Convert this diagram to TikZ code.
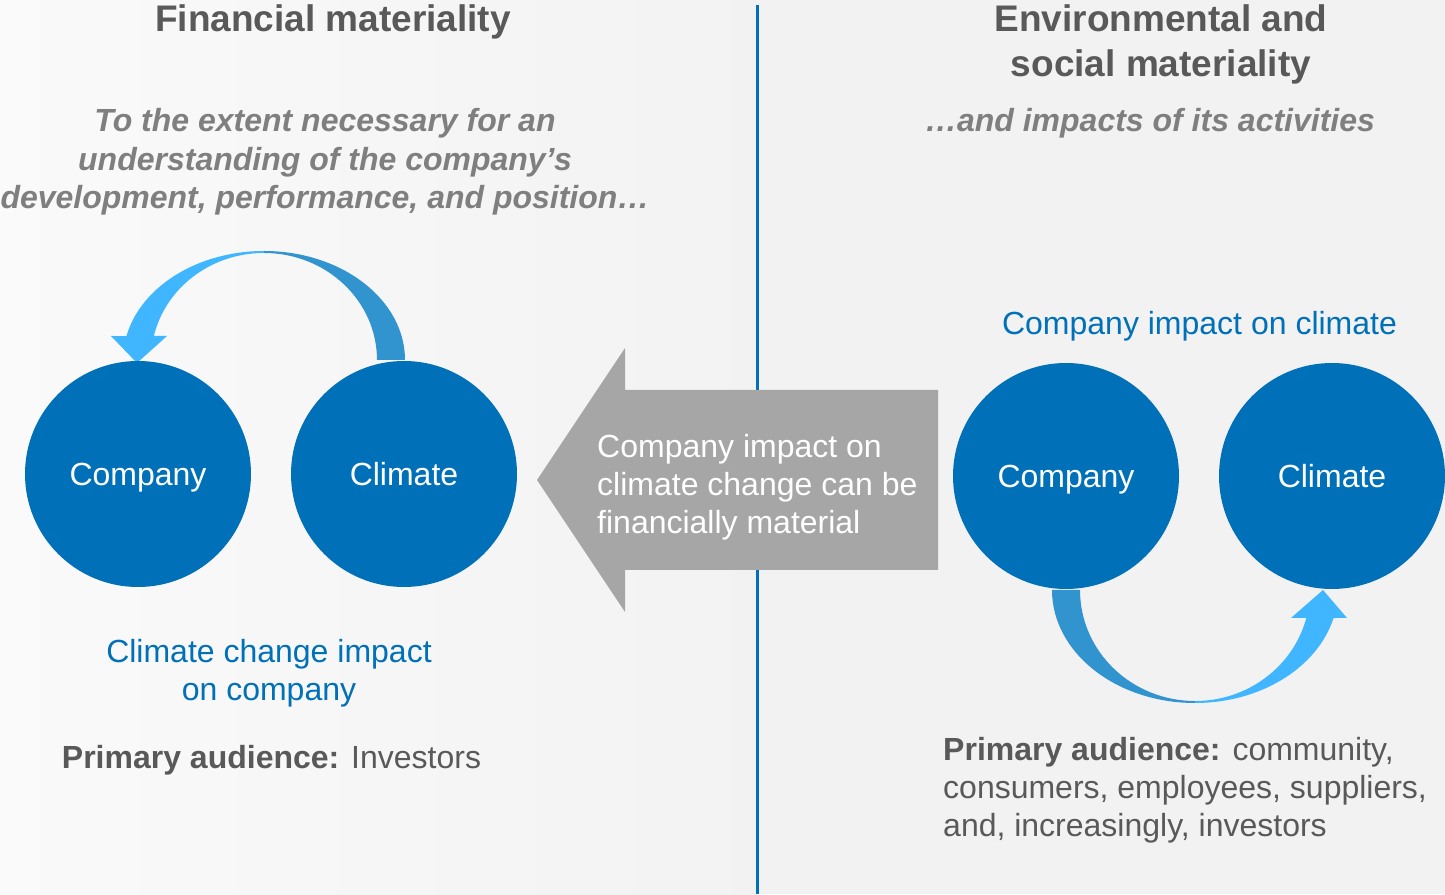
\documentclass[tikz,border=0pt]{standalone}
\usepackage{fontspec}
\setmainfont{Liberation Sans}
\usepackage{xcolor}
\definecolor{corpblue}{HTML}{0070B8}
\definecolor{arrlight}{HTML}{3FB6FF}
\definecolor{arrdark}{HTML}{3194CF}
\definecolor{headgray}{HTML}{595959}
\definecolor{subgray}{HTML}{7F7F7F}
\definecolor{bigarrow}{HTML}{A6A6A6}
\usepackage{tikz}
\usetikzlibrary{positioning}

\begin{document}
\begin{tikzpicture}[x=1pt,y=1pt,inner sep=0pt,
  circ/.style={circle,fill=corpblue,minimum size=226pt,text=white,text height=23pt,text depth=0pt,font=\fontsize{32}{38}\selectfont},
  headtxt/.style={anchor=base,align=center,text=headgray,font=\fontsize{37}{45}\selectfont\bfseries},
  subtxt/.style={anchor=base,align=center,text=subgray,font=\fontsize{32}{38.5}\selectfont\bfseries\itshape},
  bluetxt/.style={anchor=base,align=center,text=corpblue,font=\fontsize{32}{38.5}\selectfont},
  bodytxt/.style={anchor=base,text=headgray,font=\fontsize{32}{38}\selectfont}]
  \useasboundingbox (0,0) rectangle (1445,894);
  % two panels
  \shade[left color=black!2,right color=black!5] (0,0) rectangle (757,894);
  \fill[black!5] (757,0) rectangle (1445,894);
  \draw[corpblue,line width=3pt] (757,889) -- (757,0);

  % left panel (multi-line nodes sit on their last baseline)
  \node[headtxt] (fin) at (333,862) {Financial materiality};
  \node[subtxt] (finsub) at (325,685) {To the extent necessary for an\\understanding of the company’s\\development, performance, and position…};
  \fill[arrdark] (264,643) arc[start angle=90,end angle=0,x radius=141,y radius=109]
    -- (377,534) arc[start angle=0,end angle=90,x radius=113,y radius=107] -- cycle;
  \fill[arrlight] (264,643) arc[start angle=90,end angle=167.3,x radius=141,y radius=109]
    -- (111,558) -- (137,531) -- (167,558) -- (153.9,558.1)
    arc[start angle=167,end angle=90,x radius=113,y radius=107] -- cycle;
  \node[circ] (lcomp) at (138,420) {Company};
  \node[circ] (lclim) at (404,420) {Climate};
  \node[bluetxt] (lblimp) at (269,193) {Climate change impact\\on company};
  \node[bodytxt] (lbaud) at (271.5,125) {\textbf{Primary audience:} Investors};

  % big arrow across the divider
  \fill[bigarrow] (537,414) -- (625,546) -- (625,504) -- (938,504) -- (938,324) -- (625,324) -- (625,282) -- cycle;
  \node[anchor=base west,align=left,text=white,font=\fontsize{32}{38.3}\selectfont] (bridge) at (597,360)
    {Company impact on\\climate change can be\\financially material};

  % right panel
  \node[headtxt] (env) at (1161,817) {Environmental and\\social materiality};
  \node[subtxt] (envsub) at (1150,762) {…and impacts of its activities};
  \node[bluetxt] (rblimp) at (1199.5,559) {Company impact on climate};
  \fill[arrdark] (1052,304) arc[start angle=180,end angle=270,x radius=143,y radius=113]
    -- (1195,193) arc[start angle=270,end angle=180,x radius=115,y radius=111] -- cycle;
  \fill[arrlight] (1195,191) arc[start angle=270,end angle=345.65,x radius=143,y radius=113]
    -- (1347,276) -- (1323,304) -- (1291,276) -- (1306.3,276)
    arc[start angle=345.4,end angle=270,x radius=115,y radius=111] -- cycle;
  \node[circ] (rcomp) at (1066,418) {Company};
  \node[circ] (rclim) at (1332,418) {Climate};
  \node[bodytxt,anchor=base west,align=left] (rbaud) at (943,58)
    {\textbf{Primary audience:} community,\\consumers, employees, suppliers,\\and, increasingly, investors};
\end{tikzpicture}
\end{document}
